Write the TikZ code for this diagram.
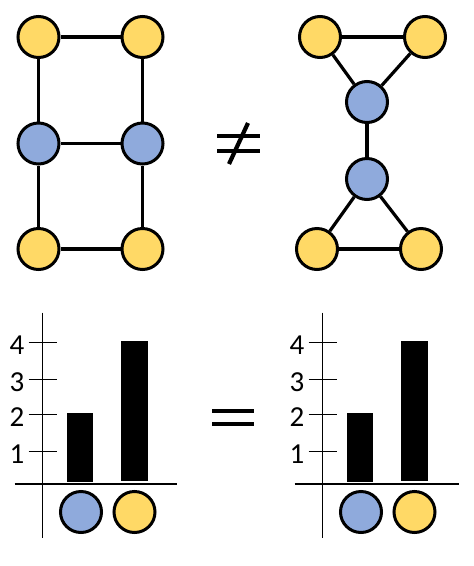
\documentclass[tikz,border=0pt]{standalone}
\usepackage{fontspec}
\setmainfont{Carlito}
\definecolor{yel}{HTML}{FFD966}
\definecolor{blu}{HTML}{8FAADC}
\tikzset{
  vtx/.style={circle,draw=black,line width=3pt,minimum size=41pt,inner sep=0pt},
  yv/.style={vtx,fill=yel},
  bv/.style={vtx,fill=blu},
  edge/.style={line width=3.2pt},
  axis/.style={line width=1.4pt},
  sym/.style={line width=4.2pt},
  num/.style={font=\fontsize{29}{29}\selectfont,inner sep=0pt}
}
\begin{document}
\begin{tikzpicture}[x=1pt,y=-1pt]
\useasboundingbox (0,0) rectangle (474,566);
% left graph
\node[yv] (a1) at (38.5,37) {};
\node[yv] (a2) at (142.5,37) {};
\node[bv] (a3) at (38.5,143.5) {};
\node[bv] (a4) at (142.5,143.5) {};
\node[yv] (a5) at (38.5,249) {};
\node[yv] (a6) at (142.5,249) {};
\draw[edge] (a1) -- (a2);
\draw[edge] (a1) -- (a3);
\draw[edge] (a2) -- (a4);
\draw[edge] (a3) -- (a4);
\draw[edge] (a3) -- (a5);
\draw[edge] (a4) -- (a6);
\draw[edge] (a5) -- (a6);
% right graph
\node[yv] (b1) at (320,37) {};
\node[yv] (b2) at (425,37) {};
\node[bv] (b3) at (367,102) {};
\node[bv] (b4) at (367,179) {};
\node[yv] (b5) at (317,249) {};
\node[yv] (b6) at (421,249) {};
\draw[edge] (b1) -- (b2);
\draw[edge] (b1) -- (b3);
\draw[edge] (b2) -- (b3);
\draw[edge] (b3) -- (b4);
\draw[edge] (b4) -- (b5);
\draw[edge] (b4) -- (b6);
\draw[edge] (b5) -- (b6);
% not equal
\draw[sym] (217,135.7) -- (260,135.7);
\draw[sym] (217,150.7) -- (260,150.7);
\draw[sym] (248,123) -- (229,164);
% equal
\draw[sym] (212.3,410.7) -- (254.3,410.7);
\draw[sym] (212.3,424.3) -- (254.3,424.3);
% charts
\foreach \ox/\xl/\xr/\name in {0/14.7/176.7/L, 280/294.7/459/R}{
  \begin{scope}[xshift=\ox]
    \draw[axis] (42.3,312.7) -- (42.3,537.7);
    \draw[axis] (\xl-\ox,484) -- (\xr-\ox,484);
    \foreach \v/\y in {4/342.3,3/379.3,2/414.3,1/451.3}{
      \draw[axis] (28.7,\y) -- (56.7,\y);
      \node[num] (t\name\v) at (17,\y+2.5) {\v};
    }
    \fill (66.7,412.7) rectangle (93,482);
    \fill (120.7,340.7) rectangle (148,481);
    \node[bv] (c\name1) at (81,512) {};
    \node[yv] (c\name2) at (134.5,512) {};
  \end{scope}
}
\end{tikzpicture}
\end{document}
